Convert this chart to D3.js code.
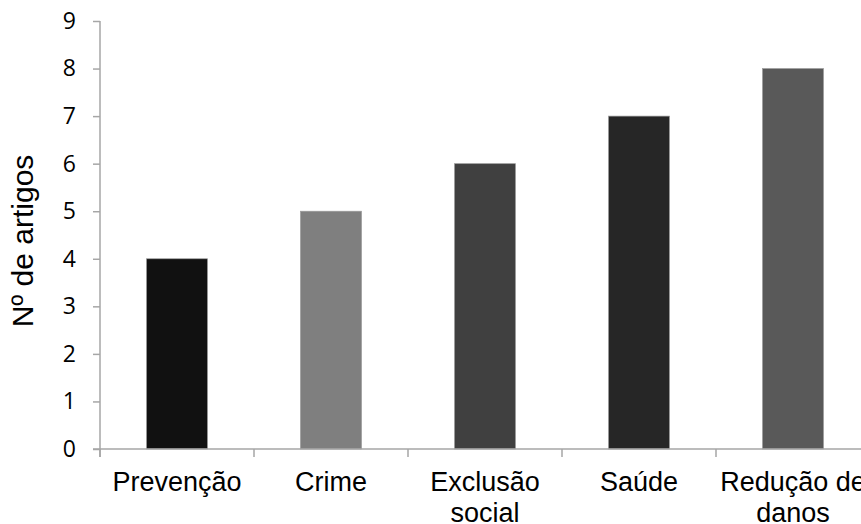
<!doctype html>
<html lang="pt">
<head>
  <meta charset="utf-8">
  <title>Nº de artigos - D3</title>
  <style>
    body { margin: 0; background: #fff; }
    svg { display: block; font-family: "Liberation Sans", Arial, sans-serif; }
  </style>
</head>
<body>
  <svg width="861" height="524"></svg>

  <script src="https://cdn.jsdelivr.net/npm/d3@7/dist/d3.min.js"></script>
  <script>
    var categories = ["Prevenção", "Crime", "Exclusão social", "Saúde", "Redução de danos"];
    var values = [4, 5, 6, 7, 8];
    var barColors = ["#111111", "#7f7f7f", "#404040", "#262626", "#595959"];
    var yTicks = [0, 1, 2, 3, 4, 5, 6, 7, 8, 9];

    var svg = d3.select('svg');
    var plotLeft = 100, plotRight = 870, plotTop = 21, plotBottom = 449;

    var x = d3.scaleBand()
      .domain(categories)
      .range([plotLeft, plotRight])
      .paddingInner(0.604)
      .paddingOuter(0.302);
    var y = d3.scaleLinear()
      .domain([0, 9])
      .range([plotBottom, plotTop]);

    // bars
    svg.append('g').selectAll('rect').data(values).enter()
      .append('rect')
      .attr('x', (v, i) => x(categories[i]))
      .attr('y', v => y(v))
      .attr('width', x.bandwidth())
      .attr('height', v => y(0) - y(v))
      .attr('fill', (v, i) => barColors[i])
      .attr('stroke', '#9a9a9a')
      .attr('stroke-width', 0.7);

    // y axis
    var yAxis = svg.append('g')
      .attr('transform', 'translate(' + plotLeft + ',0)')
      .call(d3.axisLeft(y).tickValues(yTicks).tickSize(7).tickPadding(17).tickSizeOuter(0));
    yAxis.select('.domain').attr('stroke', '#a6a6a6').attr('stroke-width', 1.5)
      .attr('d', 'M0,' + y(9) + 'V' + (plotBottom + 8));
    yAxis.selectAll('.tick line').attr('stroke', '#a6a6a6').attr('stroke-width', 1.5);
    yAxis.selectAll('.tick text').attr('fill', '#000')
      .attr('font-family', '"Open Sans", sans-serif').attr('font-size', 23);

    // x axis: labels centered on bands, ticks on band boundaries
    var xAxis = svg.append('g')
      .attr('transform', 'translate(0,' + plotBottom + ')')
      .call(d3.axisBottom(x).tickSize(0).tickPadding(23));
    xAxis.select('.domain').attr('stroke', '#a6a6a6').attr('stroke-width', 1.5)
      .attr('d', 'M' + (plotLeft - 7) + ',0H' + plotRight);
    xAxis.selectAll('.tick text').attr('font-size', 27).attr('fill', '#000')
      .call(wrap, x.step() - 2);

    xAxis.selectAll('.sep').data(d3.range(categories.length + 1)).enter()
      .append('line')
      .attr('class', 'sep')
      .attr('x1', i => plotLeft + i * x.step())
      .attr('x2', i => plotLeft + i * x.step())
      .attr('y1', 0)
      .attr('y2', 8)
      .attr('stroke', '#a6a6a6')
      .attr('stroke-width', 1.5);

    // y label
    svg.append('text')
      .attr('transform', 'translate(33,241) rotate(-90)')
      .attr('text-anchor', 'middle')
      .attr('font-size', 30)
      .attr('fill', '#000')
      .text('Nº de artigos');

    function wrap(texts, width) {
      texts.each(function () {
        var text = d3.select(this);
        var words = text.text().split(/\s+/);
        var yPos = text.attr('y');
        var dy = parseFloat(text.attr('dy'));
        var line = [], lineNo = 0;
        var tspan = text.text(null).append('tspan').attr('x', 0).attr('y', yPos).attr('dy', dy + 'em');
        words.forEach(function (w) {
          line.push(w);
          tspan.text(line.join(' '));
          if (tspan.node().getComputedTextLength() > width && line.length > 1) {
            line.pop();
            tspan.text(line.join(' '));
            line = [w];
            lineNo++;
            tspan = text.append('tspan').attr('x', 0).attr('y', yPos)
              .attr('dy', (lineNo * 1.15 + dy) + 'em').text(w);
          }
        });
      });
    }
  </script>
</body>
</html>
